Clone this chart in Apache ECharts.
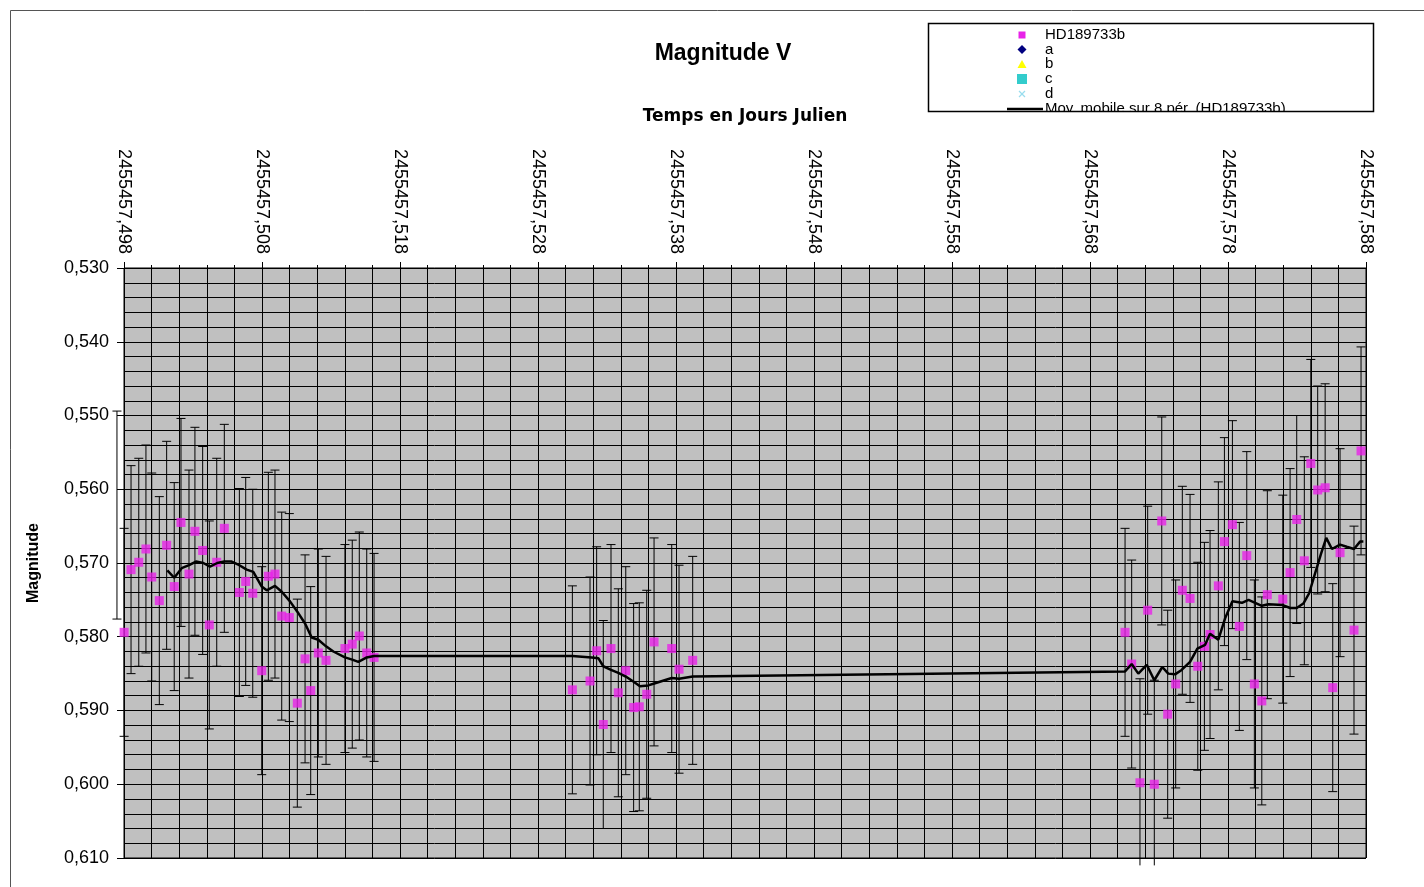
<!DOCTYPE html>
<html>
<head>
<meta charset="utf-8">
<title>Magnitude V</title>
<script src="https://cdn.jsdelivr.net/npm/echarts@6/dist/echarts.min.js"></script>
<style>
  html, body { margin: 0; padding: 0; background: #fff; }
  #chart { width: 1424px; height: 887px; }
</style>
</head>
<body>
<div id="chart"></div>
<script>
// Julian day = 2455457 + fraction; the axis starts at 2455457,498
const JD_DAY = "2455457";
const T0 = 0.498;

// HD189733b points (fraction of the day, magnitude); first one lies left of the axis
const hdTime = [
  0.49749, 0.49801, 0.49851, 0.49907, 0.49959, 0.50001, 0.50056, 0.50109, 0.50164, 0.50213,
  0.50271, 0.50314, 0.50370, 0.50418, 0.50472, 0.50527, 0.50636, 0.50682, 0.50733, 0.50798,
  0.50846, 0.50894, 0.50943, 0.50998, 0.51056, 0.51112, 0.51153, 0.51208, 0.51264, 0.51401,
  0.51454, 0.51505, 0.51559, 0.51612,
  0.53049, 0.53177, 0.53225, 0.53273, 0.53329, 0.53382, 0.53436, 0.53493, 0.53534, 0.53588,
  0.53641, 0.53769, 0.53822, 0.53921,
  0.57054, 0.57102, 0.57162, 0.57218, 0.57266, 0.57320, 0.57363, 0.57421, 0.57469, 0.57525,
  0.57581, 0.57629, 0.57670, 0.57730, 0.57774, 0.57832, 0.57882, 0.57936, 0.57991, 0.58045,
  0.58085, 0.58197, 0.58250, 0.58298, 0.58353, 0.58400, 0.58450, 0.58504, 0.58559, 0.58612,
  0.58713, 0.58764
];
const hdMag = [
  0.5635, 0.5794, 0.5709, 0.5699, 0.5681, 0.5719, 0.5751, 0.5676, 0.5732, 0.5645,
  0.5715, 0.5657, 0.5683, 0.5784, 0.5699, 0.5653, 0.5740, 0.5725, 0.5741, 0.5846,
  0.5718, 0.5715, 0.5772, 0.5774, 0.5890, 0.5830, 0.5873, 0.5822, 0.5832, 0.5816,
  0.5810, 0.5799, 0.5822, 0.5828,
  0.5872, 0.5860, 0.5819, 0.5919, 0.5816, 0.5876, 0.5846, 0.5896, 0.5895, 0.5878,
  0.5807, 0.5816, 0.5844, 0.5832,
  0.5794, 0.5837, 0.5998, 0.5764, 0.6000, 0.5643, 0.5905, 0.5864, 0.5737, 0.5748,
  0.5840, 0.5813, 0.5797, 0.5731, 0.5671, 0.5648, 0.5786, 0.5690, 0.5864, 0.5887,
  0.5743, 0.5749, 0.5713, 0.5641, 0.5697, 0.5565, 0.5601, 0.5598, 0.5869, 0.5686,
  0.5791, 0.5548
];
const magErr = 0.0141;

// moving average over 8 periods
const maTime = [
  0.50114, 0.50164, 0.50218, 0.50271, 0.50322, 0.50375, 0.50423, 0.50476, 0.50527, 0.50580,
  0.50636, 0.50689, 0.50737, 0.50798, 0.50834, 0.50894, 0.50943, 0.51003, 0.51056, 0.51112,
  0.51160, 0.51208, 0.51264, 0.51317, 0.51401, 0.51454, 0.51498, 0.51559, 0.51612,
  0.53049, 0.53189, 0.53237, 0.53273, 0.53329, 0.53382, 0.53436, 0.53493, 0.53539, 0.53599,
  0.53648, 0.53769, 0.53822, 0.53921,
  0.57054, 0.57102, 0.57150, 0.57211, 0.57266, 0.57324, 0.57367, 0.57416, 0.57464, 0.57525,
  0.57578, 0.57634, 0.57670, 0.57730, 0.57779, 0.57832, 0.57901, 0.57949, 0.57997, 0.58045,
  0.58093, 0.58197, 0.58250, 0.58298, 0.58346, 0.58388, 0.58431, 0.58475, 0.58512, 0.58553,
  0.58612, 0.58660, 0.58713, 0.58757, 0.58781
];
const maMag = [
  0.5710, 0.5720, 0.5707, 0.5703, 0.5698, 0.5700, 0.5705, 0.5700, 0.5698, 0.5698,
  0.5703, 0.5709, 0.5712, 0.5732, 0.5737, 0.5731, 0.5739, 0.5752, 0.5766, 0.5782,
  0.5801, 0.5804, 0.5813, 0.5820, 0.5828, 0.5831, 0.5834, 0.5828, 0.5826,
  0.5826, 0.5828, 0.5829, 0.5840, 0.5845, 0.5849, 0.5854, 0.5861, 0.5867, 0.5866,
  0.5863, 0.5856, 0.5857, 0.5854,
  0.5847, 0.5837, 0.5850, 0.5838, 0.5859, 0.5841, 0.5850, 0.5851, 0.5845, 0.5834,
  0.5816, 0.5811, 0.5796, 0.5804, 0.5775, 0.5752, 0.5754, 0.5750, 0.5754, 0.5758,
  0.5756, 0.5757, 0.5761, 0.5761, 0.5755, 0.5741, 0.5714, 0.5687, 0.5666, 0.5681,
  0.5675, 0.5678, 0.5681, 0.5671, 0.5671
];

const seriesNames = ["HD189733b", "a", "b", "c", "d", "Moy. mobile sur 8 pér. (HD189733b)"];
const FONT = "Liberation Sans, Arial, sans-serif";
const MAG_MIN = 0.53, MAG_MAX = 0.61;

function renderErrorBar(params, api) {
  let x = api.value(0);
  let lo = api.value(1);
  let hi = api.value(2);
  let limit = MAG_MAX + 0.001; // excel cuts bars just under the plot
  let cut = hi > limit;
  let p1 = api.coord([x, lo]);
  let p2 = api.coord([x, cut ? limit : hi]);
  let c = 4.5;
  let st = { stroke: "#000", lineWidth: 1 };
  let kids = [
    { type: "line", shape: { x1: p1[0], y1: p1[1], x2: p2[0], y2: p2[1] }, style: st },
    { type: "line", shape: { x1: p1[0] - c, y1: p1[1], x2: p1[0] + c, y2: p1[1] }, style: st },
  ];
  if (!cut) {
    kids.push({ type: "line", shape: { x1: p2[0] - c, y1: p2[1], x2: p2[0] + c, y2: p2[1] }, style: st });
  }
  return { type: "group", children: kids };
}

// legend drawn by hand: excel squeezes it into a box that cuts the last line
function legendGraphics() {
  let mx = 1022, tx = 1045;
  let ys = [35, 49.5, 64, 79, 94, 109];
  let items = [
    { type: "rect", shape: { x: mx - 3.5, y: ys[0] - 3.5, width: 7, height: 7 }, style: { fill: "#e822e8" } },
    { type: "polygon", shape: { points: [[mx, ys[1] - 4.5], [mx + 4.5, ys[1]], [mx, ys[1] + 4.5], [mx - 4.5, ys[1]]] }, style: { fill: "#000080" } },
    { type: "polygon", shape: { points: [[mx, ys[2] - 4], [mx + 4.5, ys[2] + 4], [mx - 4.5, ys[2] + 4]] }, style: { fill: "#ffff00" } },
    { type: "rect", shape: { x: mx - 5, y: ys[3] - 5, width: 10, height: 10 }, style: { fill: "#33cccc" } },
    { type: "line", shape: { x1: mx - 3, y1: ys[4] - 3, x2: mx + 3, y2: ys[4] + 3 }, style: { stroke: "#99ddee", lineWidth: 1.2 } },
    { type: "line", shape: { x1: mx + 3, y1: ys[4] - 3, x2: mx - 3, y2: ys[4] + 3 }, style: { stroke: "#99ddee", lineWidth: 1.2 } },
    { type: "line", shape: { x1: 1007, y1: ys[5], x2: 1043, y2: ys[5] }, style: { stroke: "#000", lineWidth: 2.5 } },
  ];
  seriesNames.forEach((n, i) => {
    items.push({
      type: "text",
      x: tx,
      y: ys[i],
      style: { text: n, fontFamily: FONT, fontSize: 15, fill: "#000", verticalAlign: "middle" },
    });
  });
  items.forEach((it) => { it.z = 90; it.silent = true; });
  return items;
}

let chartDom = document.getElementById("chart");
let myChart = echarts.init(chartDom);

let points = hdTime.map((t, i) => [t - T0, hdMag[i]]);
let bars = hdTime.map((t, i) => [t - T0, hdMag[i] - magErr, hdMag[i] + magErr]);
let movAvg = maTime.map((t, i) => [t - T0, maMag[i]]);

let option = {
  backgroundColor: "#fff",
  animation: false,
  textStyle: { fontFamily: FONT },
  title: {
    text: "Magnitude V",
    left: 718,
    top: 37,
    textAlign: "center",
    textStyle: { fontFamily: FONT, fontSize: 23, fontWeight: "bold", color: "#000" },
  },
  graphic: [
    {
      type: "rect",
      z: -10,
      silent: true,
      shape: { x: 10.5, y: 10.5, width: 1440, height: 900 },
      style: { fill: "none", stroke: "#555", lineWidth: 1 },
    },
    ...legendGraphics(),
    {
      // hides the lower half of the last legend line
      type: "rect",
      z: 100,
      silent: true,
      shape: { x: 930, y: 112, width: 442, height: 10 },
      style: { fill: "#fff" },
    },
    {
      type: "rect",
      z: 101,
      silent: true,
      shape: { x: 928.5, y: 23.5, width: 445, height: 88 },
      style: { fill: "none", stroke: "#000", lineWidth: 1.5 },
    },
  ],
  grid: {
    left: 124,
    right: 58,
    top: 268,
    bottom: 29,
    show: true,
    backgroundColor: "#c0c0c0",
    borderColor: "#000",
    borderWidth: 1,
  },
  xAxis: {
    type: "value",
    position: "top",
    min: 0,
    max: 0.09,
    interval: 0.01,
    name: "Temps en Jours Julien",
    nameLocation: "middle",
    nameGap: 143,
    nameTextStyle: { fontFamily: "DejaVu Sans, sans-serif", fontSize: 17, fontWeight: "bold", color: "#000" },
    axisLine: { show: true, lineStyle: { color: "#000", width: 1 } },
    axisTick: { show: true, length: 6, lineStyle: { color: "#000" } },
    minorTick: { show: true, splitNumber: 5, length: 3, lineStyle: { color: "#000" } },
    splitLine: { show: true, lineStyle: { color: "#000", width: 1 } },
    minorSplitLine: { show: true, lineStyle: { color: "#000", width: 1 } },
    axisLabel: {
      rotate: 90,
      margin: 14,
      fontFamily: FONT,
      fontSize: 18,
      color: "#000",
      formatter: (v) => JD_DAY + "," + (T0 + v).toFixed(3).slice(2),
    },
  },
  yAxis: {
    type: "value",
    inverse: true,
    min: MAG_MIN,
    max: MAG_MAX,
    interval: 0.01,
    name: "Magnitude",
    nameLocation: "middle",
    nameGap: 82,
    nameRotate: 90,
    nameTextStyle: { fontFamily: FONT, fontSize: 16, fontWeight: "bold", color: "#000" },
    axisLine: { show: true, lineStyle: { color: "#000", width: 1 } },
    axisTick: { show: true, length: 7, lineStyle: { color: "#000" } },
    splitLine: { show: true, lineStyle: { color: "#000", width: 1 } },
    minorSplitLine: { show: true, lineStyle: { color: "#000", width: 1 } },
    minorTick: { show: false, splitNumber: 5 },
    axisLabel: {
      margin: 15,
      fontFamily: FONT,
      fontSize: 18,
      color: "#000",
      formatter: (v) => v.toFixed(3).replace(".", ","),
    },
  },
  series: [
    {
      name: "errors",
      type: "custom",
      renderItem: renderErrorBar,
      data: bars,
      z: 2,
      silent: true,
    },
    {
      name: seriesNames[0],
      type: "scatter",
      symbol: "rect",
      symbolSize: 9,
      itemStyle: { color: "#e822e8" },
      data: points,
      clip: true,
      z: 3,
    },
    {
      name: seriesNames[5],
      type: "line",
      symbol: "none",
      data: movAvg,
      lineStyle: { color: "#000", width: 2.5 },
      itemStyle: { color: "#000" },
      z: 4,
    },
  ],
};

option && myChart.setOption(option);
</script>
</body>
</html>
